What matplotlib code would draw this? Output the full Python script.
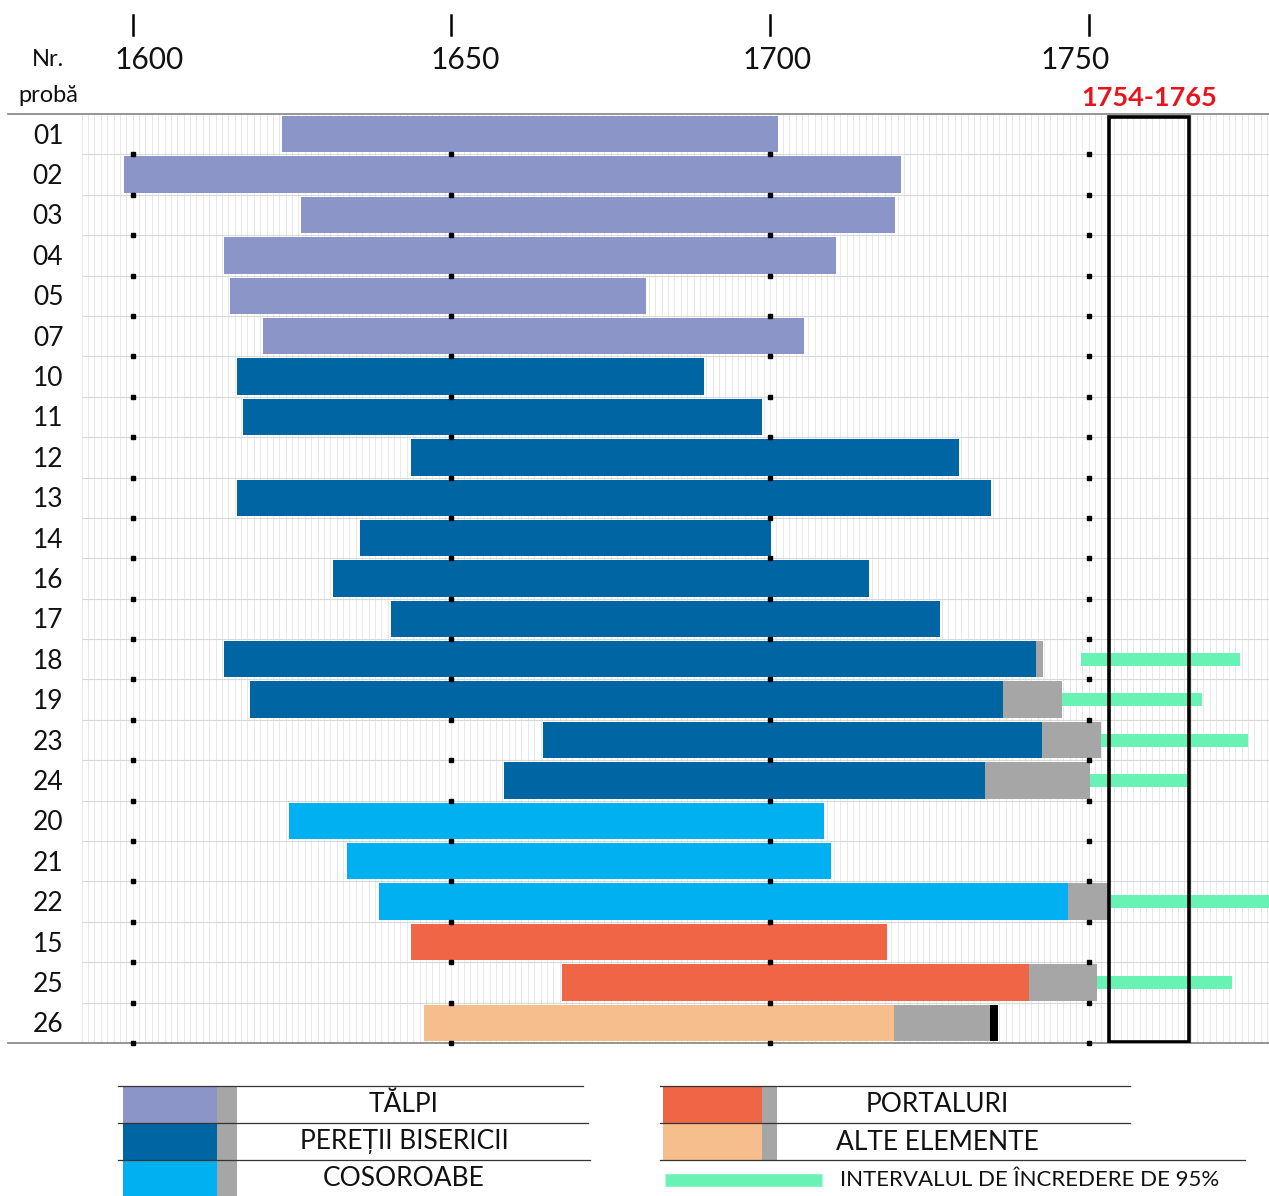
import numpy as np
import matplotlib.pyplot as plt
from matplotlib.patches import Rectangle
from matplotlib.transforms import blended_transform_factory

plt.rcParams['font.family'] = ['Lato', 'DejaVu Sans']

# probe, in ordinea din grafic
labels = ['01', '02', '03', '04', '05', '07', '10', '11', '12', '13', '14', '16',
          '17', '18', '19', '23', '24', '20', '21', '22', '15', '25', '26']
groups = ['talpi'] * 6 + ['pereti'] * 11 + ['cosoroabe'] * 3 + ['portaluri'] * 2 + ['alte']

# ani
start = [1623.5, 1598.7, 1626.4, 1614.3, 1615.3, 1620.4, 1616.3, 1617.3, 1643.7, 1616.3,
         1635.6, 1631.5, 1640.6, 1614.3, 1618.4, 1664.3, 1658.3, 1624.5, 1633.6, 1638.6,
         1643.7, 1667.4, 1645.7]
heart_end = [1701.3, 1720.5, 1719.6, 1710.4, 1680.6, 1705.3, 1689.6, 1698.8, 1729.6, 1734.7,
             1700.2, 1715.5, 1726.6, 1741.7, 1736.6, 1742.7, 1733.7, 1708.4, 1709.5, 1746.8,
             1718.4, 1740.7, 1719.4]
# alburn (gri)
sap_end = [None] * 13 + [1742.8, 1745.8, 1751.9, 1750.2, None, None, 1753.0, None, 1751.3, 1734.5]
# interval de incredere 95%
ci_lo = [None] * 13 + [1748.8, 1745.8, 1751.9, 1750.2, None, None, 1753.5, None, 1751.3, None]
ci_hi = [None] * 13 + [1773.7, 1767.7, 1775.0, 1765.5, None, None, 1779.0, None, 1772.5, None]
# ultimul inel (coaja) la proba 26
bark_row = '26'
bark = (1734.5, 1735.7)

felling = (1754, 1765)
tick_years = [1600, 1650, 1700, 1750]
tick_label_shift = [16, 14, 7, -14]  # px, cum apar in original

colors = {'talpi': '#8b95c8', 'pereti': '#0065a3', 'cosoroabe': '#00b0f0',
          'portaluri': '#ef6546', 'alte': '#f6bd8d'}
grey = '#a6a6a6'
green = '#68f2b3'

legend_left = [('talpi', 'TĂLPI'), ('pereti', 'PEREȚII BISERICII'), ('cosoroabe', 'COSOROABE')]
legend_right = [('portaluri', 'PORTALURI'), ('alte', 'ALTE ELEMENTE')]
ci_text = 'INTERVALUL DE ÎNCREDERE DE 95%'

W, H = 1269, 1196
fig = plt.figure(figsize=(W / 100, H / 100), dpi=100)


def fy(px):
    return 1 - px / H


ax_top, ax_bot = 114, 1043
ax = fig.add_axes([8 / W, fy(ax_bot), 1 - 8 / W, (ax_bot - ax_top) / H])
px_per_year = (1088.7 - 132.7) / 150
ax.set_xlim(1600 - (132.7 - 8) / px_per_year, 1600 + (W - 132.7) / px_per_year)
n = len(labels)
ax.set_ylim(n - 0.5, -0.5)
ax.set_xticks([])
ax.set_yticks([])
for s in ['left', 'right']:
    ax.spines[s].set_visible(False)
for s in ['top', 'bottom']:
    ax.spines[s].set_color('#8c8c8c')
    ax.spines[s].set_linewidth(1.3)

# grila fina: un an
grid_x0 = 1592
years = np.arange(grid_x0, 1779)
ax.vlines(years, -0.5, n - 0.5, color='#e4e4e4', lw=0.6, zorder=0)
ax.hlines(np.arange(0.5, n - 0.5), grid_x0, 1779, color='#d8d8d8', lw=0.8, zorder=0)

y = np.arange(n)
for i in range(n):
    c = colors[groups[i]]
    ax.barh(y[i], heart_end[i] - start[i], left=start[i], height=0.9, color=c, zorder=2)
    if sap_end[i] is not None:
        ax.barh(y[i], sap_end[i] - heart_end[i], left=heart_end[i], height=0.9, color=grey, zorder=2)
    if ci_lo[i] is not None:
        ax.barh(y[i], ci_hi[i] - ci_lo[i], left=ci_lo[i], height=0.32, color=green, zorder=3)
    if labels[i] == bark_row:
        ax.barh(y[i], bark[1] - bark[0], left=bark[0], height=0.9, color='black', zorder=3)
    ax.text(1600 - (132.7 - 48) / px_per_year, y[i] + 0.05, labels[i], ha='center', va='center',
            fontsize=19, color='#111111')

# repere la 50 de ani pe fiecare limita de rand
bx, by = np.meshgrid(tick_years, np.arange(0.5, n))
ax.plot(bx.ravel(), by.ravel(), ls='none', marker='s', ms=2.6, color='black', zorder=4, clip_on=False)

# intervalul de taiere
ax.add_patch(Rectangle((felling[0] - 0.8, -0.43), felling[1] - felling[0] + 1.5, n - 0.5 + 0.4,
                       fill=False, ec='black', lw=2.6, zorder=5))

bt = blended_transform_factory(ax.transData, fig.transFigure)
for yr, sh in zip(tick_years, tick_label_shift):
    ax.plot([yr, yr], [fy(15), fy(35)], color='black', lw=1.8, transform=bt, clip_on=False)
    ax.text(yr + sh / px_per_year, fy(60), str(yr), ha='center', va='center', fontsize=21.5,
            transform=bt, color='#111111')
ax.text((felling[0] + felling[1]) / 2, fy(98), '%d-%d' % felling, ha='center', va='center',
        fontsize=19.5, fontweight='bold', color='#e8141c', transform=bt)
fig.text(48 / W, fy(60), 'Nr.', ha='center', va='center', fontsize=17, color='#111111')
fig.text(48 / W, fy(95), 'probă', ha='center', va='center', fontsize=17, color='#111111')

# legenda
lg = fig.add_axes([0, 0, 1, 1], zorder=-1)
lg.set_xlim(0, W)
lg.set_ylim(H, 0)
lg.set_axis_off()
row_tops = [1087, 1124, 1161]
for k, (g, txt) in enumerate(legend_left):
    t = row_tops[k]
    lg.add_patch(Rectangle((123, t), 94, 36, color=colors[g], lw=0))
    lg.add_patch(Rectangle((217, t), 20, 36, color=grey, lw=0))
    lg.text(404, t + 18, txt, ha='center', va='center', fontsize=19, color='#111111')
for k, (g, txt) in enumerate(legend_right):
    t = row_tops[k]
    lg.add_patch(Rectangle((663, t), 99, 36, color=colors[g], lw=0))
    lg.add_patch(Rectangle((762, t), 15, 36, color=grey, lw=0))
    lg.text(937, t + 18, txt, ha='center', va='center', fontsize=19, color='#111111')
lg.plot([665, 822], [1180, 1180], color=green, lw=9, solid_capstyle='butt')
lg.text(840, 1180, ci_text, ha='left', va='center', fontsize=16, color='#111111')
for yy, x0, x1 in [(1086, 118, 583), (1123, 118, 588), (1160, 118, 590)]:
    lg.plot([x0, x1], [yy, yy], color='#333333', lw=0.9)
for yy, x0, x1 in [(1086, 660, 1130), (1123, 660, 1130), (1160, 660, 1245)]:
    lg.plot([x0, x1], [yy, yy], color='#333333', lw=0.9)

fig.savefig('out.png', dpi=100)
